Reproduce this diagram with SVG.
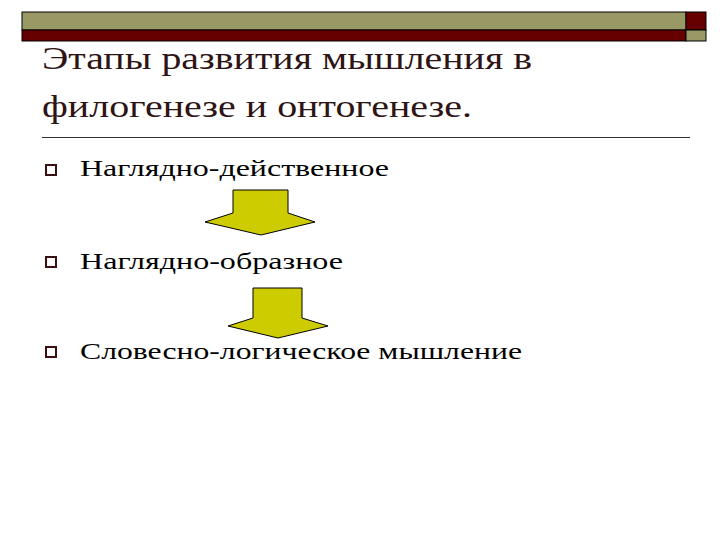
<svg xmlns="http://www.w3.org/2000/svg" width="720" height="540" viewBox="0 0 720 540">
<style>
.t{font-family:"Liberation Serif","Times New Roman",serif;fill:#2e1414;font-size:32px}
.b{font-family:"Liberation Serif","Times New Roman",serif;fill:#000;font-size:23px}
.sq{fill:none;stroke:#3a1010;stroke-width:2}
.ar{fill:#cccc00;stroke:#000;stroke-width:1}
</style>
<rect width="720" height="540" fill="#fff"/>
<g id="banner">
<rect x="22" y="12" width="664" height="18" fill="#999966" stroke="#000" stroke-width="1"/>
<rect x="22" y="30" width="664" height="11" fill="#660000" stroke="#000" stroke-width="1"/>
<rect x="686" y="12" width="20" height="18" fill="#660000" stroke="#000" stroke-width="1"/>
<rect x="686" y="30" width="20" height="11" fill="#999966" stroke="#000" stroke-width="1"/>
</g>
<g id="title">
<text class="t" x="42" y="69" textLength="490" lengthAdjust="spacingAndGlyphs">Этапы развития мышления в</text>
<text class="t" x="42" y="117" textLength="430" lengthAdjust="spacingAndGlyphs">филогенезе и онтогенезе.</text>
<line x1="42" y1="137.5" x2="690" y2="137.5" stroke="#333" stroke-width="1"/>
</g>
<g id="n1"><rect class="sq" x="46" y="165" width="10" height="10"/><text class="b" x="80" y="176" textLength="309" lengthAdjust="spacingAndGlyphs">Наглядно-действенное</text></g>
<g id="n2"><rect class="sq" x="46" y="257" width="10" height="10"/><text class="b" x="80" y="269" textLength="263" lengthAdjust="spacingAndGlyphs">Наглядно-образное</text></g>
<g id="n3"><rect class="sq" x="46" y="347" width="10" height="10"/><text class="b" x="80" y="359" textLength="442" lengthAdjust="spacingAndGlyphs">Словесно-логическое мышление</text></g>
<g id="connectors">
<polygon class="ar" points="233,190 288,190 288,213 315,222 261,235 205,222 233,213"/>
<polygon class="ar" points="253,288 302,288 302,318 328,326 278,338 228,326 253,318"/>
</g>
</svg>
